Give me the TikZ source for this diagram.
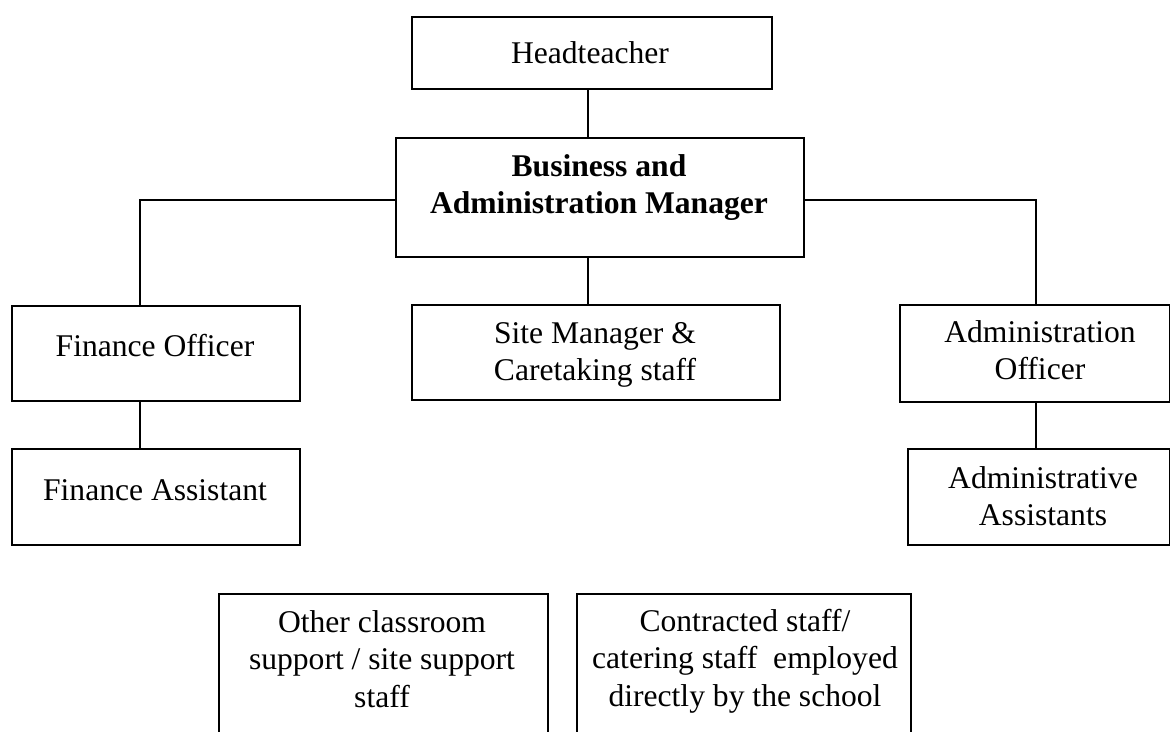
\documentclass[tikz,border=0pt]{standalone}
\usepackage{fontspec}
\setmainfont{Liberation Serif}
\newcommand{\lines}[1]{\setlength{\tabcolsep}{0pt}\begin{tabular}[t]{c}#1\end{tabular}}
\begin{document}
\begin{tikzpicture}[x=1pt,y=-1pt,
  box/.style={draw, line width=2pt, sharp corners, inner sep=0pt, anchor=north west},
  conn/.style={line width=2pt},
  lbl/.style={inner sep=0pt, anchor=base, font=\fontsize{31.6}{37.5}\selectfont}]
\useasboundingbox (0,0) rectangle (1170,731);
% boxes
\node[box, minimum width=360pt, minimum height=72pt]  (ht)  at (411,16)  {};
\node[box, minimum width=408pt, minimum height=119pt] (bam) at (395,137) {};
\node[box, minimum width=288pt, minimum height=95pt]  (fo)  at (11,305)  {};
\node[box, minimum width=288pt, minimum height=96pt]  (fa)  at (11,448)  {};
\node[box, minimum width=368pt, minimum height=95pt]  (sm)  at (411,304) {};
\node[box, minimum width=270pt, minimum height=97pt]  (ao)  at (899,304) {};
\node[box, minimum width=262pt, minimum height=96pt]  (aa)  at (907,448) {};
\node[box, minimum width=329pt, minimum height=160pt] (oc)  at (218,593) {};
\node[box, minimum width=334pt, minimum height=160pt] (cs)  at (576,593) {};
% texts
\node[lbl] (tht)  at (590,63)  {Headteacher};
\node[lbl] (tbam) at (599,176) {\lines{\bfseries Business and\\\bfseries Administration Manager}};
\node[lbl] (tfo)  at (155,356) {Finance Officer};
\node[lbl] (tfa)  at (155,500) {Finance Assistant};
\node[lbl] (tsm)  at (595,343) {\lines{Site Manager \&\\Caretaking staff}};
\node[lbl] (tao)  at (1040,342) {\lines{Administration\\Officer}};
\node[lbl] (taa)  at (1043,488) {\lines{Administrative\\Assistants}};
\node[lbl] (toc)  at (382,632) {\lines{Other classroom\\support / site support\\staff}};
\node[lbl] (tcs)  at (745,631) {\lines{Contracted staff/\\catering staff\ \ employed\\directly by the school}};
% connectors
\draw[conn] ([xshift=-4pt]ht.south) -- ([xshift=-4pt]ht.south |- bam.north);
\draw[conn] ([yshift=-2.5pt]bam.west) -| ([xshift=-16pt]fo.north);
\draw[conn] ([yshift=-2.5pt]bam.east) -| ([xshift=1pt]ao.north);
\draw[conn] ([xshift=-12pt]bam.south) -- ([xshift=-12pt]bam.south |- sm.north);
\draw[conn] ([xshift=-16pt]fo.south) -- ([xshift=-16pt]fa.north);
\draw[conn] ([xshift=1pt]ao.south) -- ([xshift=1pt]ao.south |- aa.north);
\end{tikzpicture}
\end{document}
